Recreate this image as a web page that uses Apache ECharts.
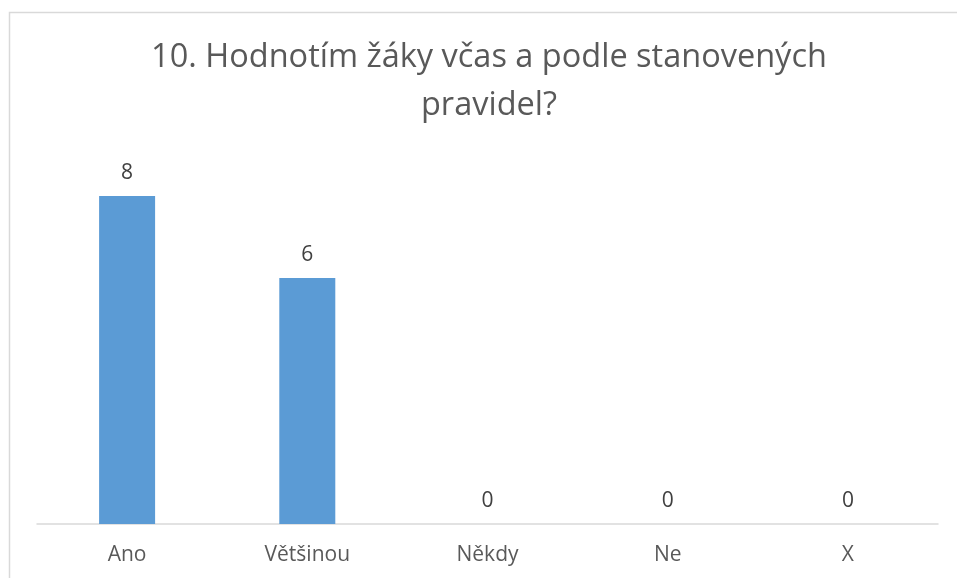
<!DOCTYPE html>
<html><head><meta charset="utf-8">
<script src="https://cdn.jsdelivr.net/npm/echarts@6/dist/echarts.min.js"></script>
<style>html,body{margin:0;padding:0;background:#fff}#c{width:957px;height:578px}</style>
</head><body><div id="c"></div>
<script>
const categories = ['Ano', 'Většinou', 'Někdy', 'Ne', 'X'];
const values = [8, 6, 0, 0, 0];
const titleText = '10. Hodnotím žáky včas a podle stanovených\npravidel?';

const chart = echarts.init(document.getElementById('c'), null, {renderer: 'canvas'});
chart.setOption({
  animation: false,
  backgroundColor: '#fff',
  graphic: [{
    type: 'rect', left: 7, top: 10, silent: true,
    shape: {x: 0, y: 0, width: 1000, height: 600},
    style: {fill: 'none', stroke: '#d9d9d9', lineWidth: 1.5}
  }],
  title: {
    text: titleText, left: 484, top: 29, textAlign: 'center',
    textStyle: {fontFamily: 'Open Sans', fontSize: 32.5, fontWeight: 'normal', color: '#595959', lineHeight: 48}
  },
  grid: {left: 37, right: 19, top: 155, bottom: 54},
  xAxis: {
    type: 'category', data: categories,
    axisLine: {lineStyle: {color: '#d9d9d9', width: 1.5}},
    axisTick: {show: false},
    axisLabel: {fontFamily: 'Open Sans', fontSize: 21, color: '#595959', margin: 21}
  },
  yAxis: {type: 'value', min: 0, max: 9, show: false, splitLine: {show: false}},
  series: [{
    type: 'bar', data: values, barWidth: 56,
    itemStyle: {color: '#5b9bd5'},
    label: {show: true, position: 'top', distance: 12, fontFamily: 'Open Sans', fontSize: 21, color: '#404040'}
  }]
});
</script></body></html>
